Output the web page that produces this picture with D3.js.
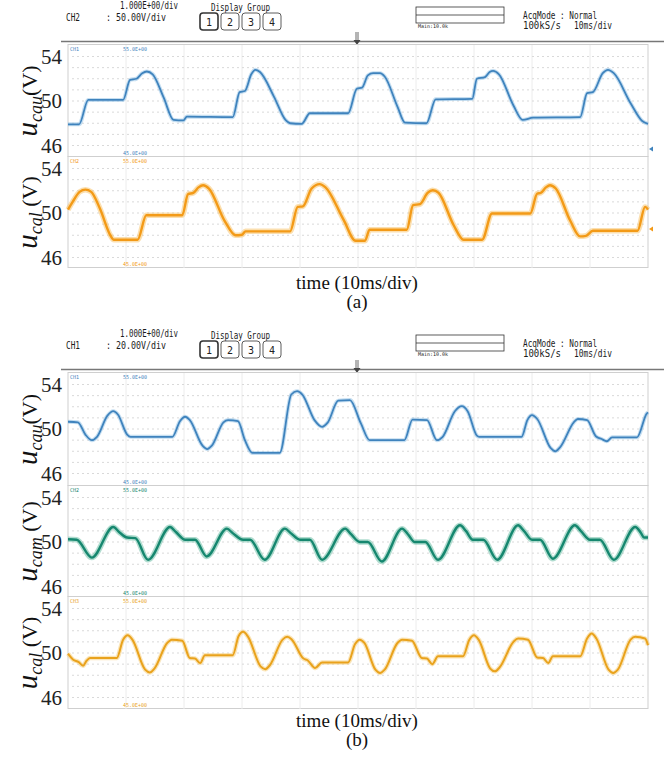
<!DOCTYPE html>
<html><head><meta charset="utf-8">
<script src="https://cdn.jsdelivr.net/npm/d3@7"></script>
<style>body{margin:0;background:#fff}svg{display:block}</style>
</head><body>
<svg id="fig" width="664" height="761"></svg>
<script>
// ---- waveform data: time in ms (10 ms/div, 10 divisions), capacitor voltage in V ----
// (a) upper / lower arm capacitors
const aCauTime = [0,1.9,3.5,9.5,10.7,11.8,12.8,13.6,14.6,16.5,18.2,19.9,20.5,28.4,29.6,30.5,31.6,32.3,33.1,35.5,37.5,38.3,40.3,41.7,48.3,49.8,50.7,51.7,52.6,53.8,54.6,56.8,58.1,61.8,63.4,69.7,70.5,71.9,72.7,73.3,74.3,76.8,78.4,80.2,88.3,89.5,90.5,92.2,93.1,94.1,97.0,99.0,100];
const aCauVolt = [47.9,47.9,50.1,50.1,51.9,52.0,52.5,52.65,52.4,50.3,48.3,48.25,48.6,48.55,50.8,50.9,52.4,52.8,52.6,50.4,48.3,48.0,47.95,48.9,48.9,51.1,51.2,52.3,52.5,52.5,52.2,49.5,48.05,48.0,50.15,50.2,52.0,52.15,52.6,52.7,52.4,49.6,48.3,48.5,48.55,50.7,50.8,52.5,52.8,52.5,49.8,48.2,47.95];

const aCalTime = [0,0.8,2.0,3.0,4.0,5.5,7.3,7.9,12.0,13.5,19.7,20.7,21.6,22.5,23.3,24.3,27.0,28.9,30.0,30.6,38.3,39.6,40.5,42.0,43.4,44.4,47.5,49.6,51.2,52.0,58.4,59.5,60.7,62.0,62.9,63.9,66.5,68.2,71.4,73.1,79.7,80.9,81.5,82.4,83.1,84.1,86.6,88.3,89.3,90.5,98.2,99.5,100];
const aCalVolt = [50.3,51.0,51.9,52.1,51.9,50.4,48.0,47.6,47.6,49.8,49.8,51.7,51.8,52.3,52.5,52.2,49.3,48.0,48.05,48.35,48.35,50.55,50.6,52.2,52.6,52.3,49.4,47.5,47.5,48.5,48.5,50.7,50.8,51.8,52.05,51.8,48.9,47.6,47.6,49.95,49.95,51.75,51.8,52.3,52.5,52.2,49.3,47.9,47.95,48.4,48.4,50.55,50.3];

// (b) upper / middle / lower capacitors
const bCauTime = [0,1.7,3.0,4.1,5.0,6.8,7.8,8.6,10.2,10.8,18.0,19.3,20.2,21.0,23.2,24.0,24.8,26.8,27.6,29.3,30.5,31.8,36.5,38.5,39.5,40.4,42.5,43.8,44.8,46.6,48.6,50.5,52.0,58.0,59.4,61.9,63.6,64.6,66.7,67.9,68.9,70.5,70.9,78.2,79.2,80.0,80.9,83.2,84.0,84.9,87.2,87.9,89.5,91.0,92.0,92.9,93.8,98.1,99.8,100];
const bCauVolt = [50.65,50.6,49.5,49.0,49.3,51.2,51.6,51.3,49.5,49.3,49.3,50.7,51.1,50.8,48.5,48.2,48.5,50.6,50.8,50.7,49.0,47.85,47.85,53.1,53.4,53.1,50.8,50.2,50.6,52.55,52.6,50.5,49.0,49.0,50.85,50.8,49.0,49.3,51.6,52.05,51.6,49.4,49.3,49.3,50.8,51.25,50.9,48.3,48.0,48.4,50.6,50.9,50.8,49.35,49.1,48.9,49.25,49.25,51.4,51.5];

const bCamTime = [0,1.5,4.1,7.8,8.8,10.2,11.6,13.8,17.6,18.6,20.2,21.9,23.9,27.4,28.4,30.2,31.4,33.9,37.4,38.4,40.0,41.7,43.8,47.8,48.8,50.3,51.7,54.1,57.6,58.6,59.8,61.6,63.8,67.6,68.6,69.8,71.6,74.0,77.6,78.6,80.0,81.4,83.6,87.4,88.4,90.0,91.7,94.1,97.8,98.8,99.3,100];
const bCamVolt = [50.25,50.2,48.6,51.35,50.9,50.4,50.35,48.4,51.35,50.9,50.2,50.2,48.7,51.2,50.8,50.2,50.2,48.4,51.2,50.8,50.2,50.2,48.4,51.2,50.7,50.0,50.0,48.25,51.2,50.7,50.0,50.0,48.4,51.5,51.0,50.2,50.2,48.4,51.5,51.0,50.2,50.2,48.5,51.5,51.0,50.2,50.2,48.4,51.35,50.8,50.4,50.4];

const bCalTime = [0,0.9,1.8,2.6,3.2,3.8,8.4,9.5,10.3,11.1,13.3,14.1,14.9,17.1,17.9,19.7,21.0,21.9,22.8,23.6,28.4,29.4,30.2,31.0,33.2,34.0,34.8,37.0,37.8,38.6,40.6,41.3,42.6,43.8,48.3,49.5,50.3,51.1,53.0,53.8,54.6,56.8,57.6,59.3,61.0,61.9,62.8,63.8,68.1,69.2,70.0,70.8,72.8,73.6,74.4,76.8,77.6,79.3,80.9,81.9,82.8,83.6,88.3,89.5,90.3,91.1,93.2,94.0,94.8,97.0,97.8,99.5,100];
const bCalVolt = [49.95,49.4,49.2,48.85,49.3,49.55,49.55,51.2,51.6,51.2,48.5,48.25,48.6,50.9,51.2,51.1,49.55,49.5,49.1,49.8,49.8,51.5,51.9,51.5,48.8,48.55,48.9,51.2,51.45,51.2,49.5,49.35,48.65,49.15,49.15,50.8,51.2,50.9,48.5,48.2,48.5,50.9,51.2,51.1,49.55,49.5,49.0,49.7,49.7,51.2,51.6,51.2,48.6,48.35,48.7,51.0,51.3,51.2,49.6,49.55,49.1,49.7,49.7,51.3,51.75,51.3,48.5,48.2,48.5,51.2,51.45,51.3,50.7];

const voltTicks = [54, 50, 46];
const gridVolts = [46,47,48,49,50,51,52,53,54];
const divTicks = [0,10,20,30,40,50,60,70,80,90,100];
const timeLabel = "time (10ms/div)";
const subCaptions = ["(a)", "(b)"];

// ---- layout ----
const svg = d3.select("#fig");
const x = d3.scaleLinear().domain([0, 100]).range([68, 648]);
const SERIF = "'Liberation Serif','Times New Roman',serif";
const MONO = "'DejaVu Sans Mono','Liberation Mono',monospace";

function pairs(t, v) { return t.map((d, i) => [d, v[i]]); }

const figures = [
  {
    dy: 0, chName: "CH2", vdiv: ": 50.00V/div", bottom: 268, caption: 0, capY: 282,
    channels: [
      { top: 45, id: "CH1", sub: "cau", gap: "", color: "#3f83bd", halo: "#95c3e6", core: 1.8, haloW: 4, data: pairs(aCauTime, aCauVolt), marker: 149 },
      { top: 157, id: "CH2", sub: "cal", gap: " ", color: "#f39a17", halo: "#f8c46e", core: 2.4, haloW: 5.5, data: pairs(aCalTime, aCalVolt), marker: 229 }
    ]
  },
  {
    dy: 328, chName: "CH1", vdiv: ": 20.00V/div", bottom: 709, caption: 1, capY: 720,
    channels: [
      { top: 373, id: "CH1", sub: "cau", gap: "", color: "#3f83bd", halo: "#95c3e6", core: 1.8, haloW: 4, data: pairs(bCauTime, bCauVolt) },
      { top: 486, id: "CH2", sub: "cam", gap: " ", color: "#16876f", halo: "#6fbfa8", core: 2.4, haloW: 5.5, data: pairs(bCamTime, bCamVolt) },
      { top: 597, id: "CH3", sub: "cal", gap: " ", color: "#e9a21c", halo: "#f5cf80", core: 2.0, haloW: 4.5, data: pairs(bCalTime, bCalVolt) }
    ]
  }
];

function scopeText(g, str, x0, y0, len, size, fill) {
  g.append("text").attr("x", x0).attr("y", y0)
    .attr("dominant-baseline", "central")
    .attr("font-family", MONO).attr("font-size", size)
    .attr("textLength", len).attr("lengthAdjust", "spacingAndGlyphs")
    .attr("fill", fill || "#1a1a1a").text(str);
}

figures.forEach(fig => {
  // instrument status header
  const h = svg.append("g").attr("transform", `translate(0,${fig.dy})`);
  scopeText(h, "1.000E+00/div", 120, 5, 58, 10);
  scopeText(h, fig.chName, 66, 17, 14, 10);
  scopeText(h, fig.vdiv, 106, 17, 60, 10);
  scopeText(h, "Display Group", 211, 7, 59, 10);
  [1, 2, 3, 4].forEach((n, i) => {
    const bx = 200 + i * 21;
    h.append("rect").attr("x", bx).attr("y", 13).attr("width", 18).attr("height", 17).attr("rx", 3)
      .attr("fill", "#fff").attr("stroke", "#333").attr("stroke-width", i === 0 ? 1.6 : 0.8);
    h.append("text").attr("x", bx + 9).attr("y", 22).attr("text-anchor", "middle")
      .attr("dominant-baseline", "central").attr("font-family", MONO).attr("font-size", 10)
      .attr("fill", "#222").text(n);
  });
  h.append("rect").attr("x", 416).attr("y", 7).attr("width", 88).attr("height", 16)
    .attr("fill", "none").attr("stroke", "#333").attr("stroke-width", 0.8);
  h.append("line").attr("x1", 416).attr("x2", 504).attr("y1", 15).attr("y2", 15)
    .attr("stroke", "#333").attr("stroke-width", 0.8);
  scopeText(h, "Main:10.0k", 418, 26, 30, 5);
  scopeText(h, "AcqMode : Normal", 523, 15, 74, 10);
  scopeText(h, "100kS/s", 523, 25, 38, 10);
  scopeText(h, "10ms/div", 574, 25, 38, 10);
  h.append("line").attr("x1", 61).attr("x2", 664).attr("y1", 41.5).attr("y2", 41.5)
    .attr("stroke", "#777").attr("stroke-width", 1.5);
  // trigger position marker
  h.append("line").attr("x1", 356).attr("x2", 356).attr("y1", 32).attr("y2", 41).attr("stroke", "#444").attr("stroke-width", 0.8);
  h.append("line").attr("x1", 358).attr("x2", 358).attr("y1", 32).attr("y2", 41).attr("stroke", "#444").attr("stroke-width", 0.8);
  h.append("path").attr("d", "M353.5,40 L360.5,40 L357,45 Z").attr("fill", "#444");
  scopeText(h, "<Main>", 348, 50, 18, 5.5);

  fig.channels.forEach((ch, ci) => {
    const bottom = ci < fig.channels.length - 1 ? fig.channels[ci + 1].top : fig.bottom;
    const y = d3.scaleLinear().domain([46, 54]).range([ch.top + 100.5, ch.top + 11.5]);
    const g = svg.append("g");

    // screen graticule
    g.append("rect").attr("x", x(0)).attr("y", ch.top - 0.5).attr("width", x(100) - x(0))
      .attr("height", bottom - ch.top).attr("fill", "#fff").attr("stroke", "#cfcfcf").attr("stroke-width", 1);
    g.selectAll(".vg").data(divTicks.slice(1, -1)).join("line")
      .attr("x1", d => x(d)).attr("x2", d => x(d))
      .attr("y1", ch.top).attr("y2", bottom).attr("stroke", "#ececec").attr("stroke-width", 1);
    g.selectAll(".hg").data(gridVolts).join("line")
      .attr("x1", x(0) + 4).attr("x2", x(100) - 4)
      .attr("y1", d => y(d)).attr("y2", d => y(d))
      .attr("stroke", "#d9d9d9").attr("stroke-width", 1).attr("stroke-dasharray", "2,3");

    // channel annotations
    scopeText(g, ch.id, 70, ch.top + 4, 9, 5.5, ch.color);
    scopeText(g, "55.0E+00", 123, ch.top + 4, 24, 5.5, ch.color);
    scopeText(g, "45.0E+00", 123, bottom - 4, 24, 5.5, ch.color);

    // trace
    const line = d3.line().x(d => x(d[0])).y(d => y(d[1])).curve(d3.curveMonotoneX);
    g.append("path").attr("d", line(ch.data)).attr("fill", "none")
      .attr("stroke", ch.halo).attr("stroke-width", ch.haloW).attr("stroke-opacity", 0.55)
      .attr("stroke-linejoin", "round");
    g.append("path").attr("d", line(ch.data)).attr("fill", "none")
      .attr("stroke", ch.color).attr("stroke-width", ch.core).attr("stroke-linejoin", "round");

    if (ch.marker) {
      g.append("path").attr("d", `M649,${ch.marker} L653,${ch.marker - 2.5} L653,${ch.marker + 2.5} Z`)
        .attr("fill", ch.color);
    }

    // voltage tick labels
    g.selectAll(".tk").data(voltTicks).join("text")
      .attr("x", 62).attr("y", d => y(d)).attr("text-anchor", "end")
      .attr("dominant-baseline", "central").attr("font-family", SERIF)
      .attr("font-size", 21).attr("fill", "#222").text(d => d);

    // axis title u_xxx (V)
    const cy = (ch.top + bottom) / 2;
    const t = g.append("text").attr("transform", `translate(37,${cy}) rotate(-90)`)
      .attr("text-anchor", "middle").attr("font-family", SERIF).attr("fill", "#111");
    t.append("tspan").attr("font-style", "italic").attr("font-size", 29).text("u");
    t.append("tspan").attr("font-style", "italic").attr("font-size", 18).attr("dy", 5).text(ch.sub);
    t.append("tspan").attr("font-size", 22).attr("dy", -5).text(ch.gap + "(V)");
  });

  svg.append("text").attr("x", 357).attr("y", fig.capY).attr("text-anchor", "middle")
    .attr("dominant-baseline", "central").attr("font-family", SERIF).attr("font-size", 19)
    .attr("fill", "#111").text(timeLabel);
  svg.append("text").attr("x", 357).attr("y", fig.capY + 19).attr("text-anchor", "middle")
    .attr("dominant-baseline", "central").attr("font-family", SERIF).attr("font-size", 19)
    .attr("fill", "#111").text(subCaptions[fig.caption]);
});
</script>
</body></html>
